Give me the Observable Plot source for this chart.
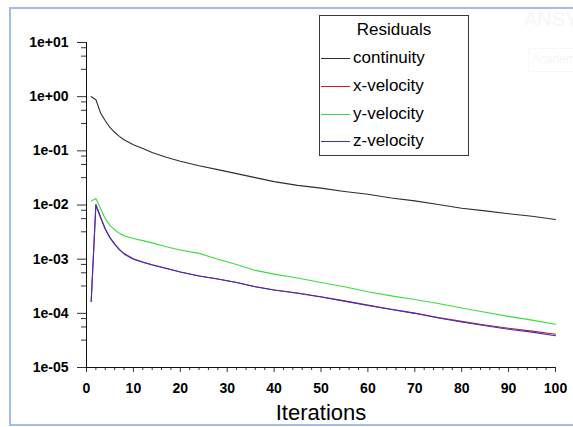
<!DOCTYPE html>
<html>
<head>
<meta charset="utf-8">
<script src="https://cdn.jsdelivr.net/npm/d3@7"></script>
<script src="https://cdn.jsdelivr.net/npm/@observablehq/plot@0.6"></script>
<style>
  html, body { margin: 0; padding: 0; background: #fff; overflow: hidden; }
  #wrap { position: relative; width: 573px; height: 427px; overflow: hidden; font-family: "Liberation Sans", Arial, sans-serif; }
  #frame { position: absolute; left: 9px; top: 7px; width: 640px; height: 415px; border: 2px solid #a3bde6; box-sizing: content-box; pointer-events: none; }
  #chart { position: absolute; left: 0; top: 0; }
  #legend { position: absolute; left: 319px; top: 15px; width: 148px; height: 139px; border: 1px solid #3a3a3a; background: #fff; }
  #legend .title { position: absolute; left: 0; width: 100%; top: 4px; text-align: center; font-size: 17px; color: #000; }
  #legend .row { position: absolute; left: 1px; height: 20px; }
  #legend .row .sw { position: absolute; left: 0; top: 10px; width: 29px; height: 0; border-top: 1px solid; }
  #legend .row .lb { position: absolute; left: 32px; top: 0; font-size: 17px; color: #000; white-space: nowrap; line-height: 20px; }
  .wm { position: absolute; color: #f5f6f9; white-space: nowrap; }
</style>
</head>
<body>
<div id="wrap">
  <div class="wm" style="left:524px;top:8px;font-size:20px;">ANSYS</div>
  <div class="wm" style="left:528px;top:48px;width:60px;height:22px;border:1px solid #f7f8fa;"></div>
  <div class="wm" style="left:532px;top:52px;font-size:12px;">Academic</div>
  <div id="chart"></div>
  <div id="legend"></div>
  <div id="frame"></div>
</div>
<script>
// ---- data ----
const iterations = [1,2,3,4,5,6,7,8,10,12,14,17,20,24,28,32,36,40,45,50,55,60,65,70,75,80,85,90,95,100];
const continuity = [1.0,0.88,0.5,0.36,0.27,0.22,0.185,0.16,0.13,0.11,0.093,0.076,0.064,0.053,0.045,0.038,0.032,0.027,0.023,0.0205,0.0178,0.0158,0.0135,0.0119,0.0102,0.0087,0.0078,0.0069,0.0062,0.0054];
const xVelocity = [0.000165,0.0102,0.0060,0.0036,0.0025,0.0019,0.00152,0.00127,0.00102,0.00089,0.00079,0.00068,0.00058,0.00049,0.00043,0.00037,0.00031,0.00027,0.000238,0.000202,0.000170,0.000142,0.000119,0.000101,0.000084,0.000071,0.000061,0.000053,0.000047,0.000041];
const yVelocity = [0.0118,0.0132,0.0085,0.0056,0.0042,0.0035,0.0030,0.0027,0.0024,0.0022,0.0020,0.0017,0.00148,0.00128,0.00100,0.00080,0.00062,0.00053,0.00045,0.00037,0.00031,0.00025,0.00021,0.00018,0.000152,0.000125,0.000105,0.000088,0.000075,0.000063];
const zVelocity = [0.000165,0.0100,0.0058,0.0036,0.0025,0.0019,0.0015,0.00125,0.00100,0.00088,0.00078,0.00067,0.00058,0.00049,0.00043,0.00037,0.00031,0.00027,0.000235,0.000200,0.000168,0.000140,0.000118,0.000100,0.000082,0.000069,0.000059,0.000051,0.000045,0.0000385];

const seriesNames = ["continuity", "x-velocity", "y-velocity", "z-velocity"];
const seriesColors = ["#2e2e2e", "#c81e28", "#3ddc3d", "#3434c4"];
const legendTitle = "Residuals";
const xLabel = "Iterations";

const xTickValues = [0,10,20,30,40,50,60,70,80,90,100];
const xMinorTickValues = [2,4,6,8,12,14,16,18,22,24,26,28,32,34,36,38,42,44,46,48,52,54,56,58,62,64,66,68,72,74,76,78,82,84,86,88,92,94,96,98];
const yTickValues = [1e-5, 1e-4, 1e-3, 1e-2, 1e-1, 1e0, 1e1];
const yTickLabels = ["1e-05", "1e-04", "1e-03", "1e-02", "1e-01", "1e+00", "1e+01"];
const yMinorMultipliers = [8, 5.6, 3.2];

// ---- build table ----
const seriesValues = [continuity, xVelocity, yVelocity, zVelocity];
const rows = [];
seriesNames.forEach((name, s) => {
  iterations.forEach((it, i) => rows.push({iteration: it, value: seriesValues[s][i], series: name}));
});
const yMinorTickValues = [];
yTickValues.slice(1).forEach(d => yMinorMultipliers.forEach(m => yMinorTickValues.push(d / 10 * m)));
const yLabelOf = new Map(yTickValues.map((v, i) => [v, yTickLabels[i]]));

const chart = Plot.plot({
  width: 573,
  height: 427,
  marginLeft: 86,
  marginRight: 18,
  marginTop: 42,
  marginBottom: 60,
  style: {fontFamily: "'Liberation Sans', Arial, sans-serif", fontSize: "14px", fontWeight: "bold", color: "#000", background: "transparent"},
  x: {domain: [0, 100], label: null},
  y: {type: "log", domain: [1e-5, 10], label: null},
  color: {domain: seriesNames, range: seriesColors},
  marks: [
    Plot.axisY(yMinorTickValues, {tickSize: 5, tickFormat: () => "", stroke: "#333"}),
    Plot.axisY(yTickValues, {tickSize: 9, tickPadding: 9, tickFormat: d => yLabelOf.get(d), stroke: "#333", label: null}),
    Plot.axisX(xMinorTickValues, {tickSize: 3, tickFormat: () => "", stroke: "#333"}),
    Plot.axisX(xTickValues, {tickSize: 5, tickPadding: 10.5, stroke: "#333", label: null}),
    Plot.ruleX([0], {stroke: "#111"}),
    Plot.ruleY([1e-5], {stroke: "#111"}),
    Plot.line(rows, {x: "iteration", y: "value", z: "series", stroke: "series", strokeWidth: 1.1}),
    Plot.text([xLabel], {frameAnchor: "bottom", dy: 52, fontSize: 22, fontWeight: "normal", text: d => d, fill: "#000"})
  ]
});
document.getElementById("chart").appendChild(chart);

// ---- legend ----
const legend = document.getElementById("legend");
const t = document.createElement("div");
t.className = "title";
t.textContent = legendTitle;
legend.appendChild(t);
seriesNames.forEach((name, i) => {
  const row = document.createElement("div");
  row.className = "row";
  row.style.top = (32 + i * 27.8) + "px";
  const sw = document.createElement("div");
  sw.className = "sw";
  sw.style.borderTopColor = seriesColors[i];
  const lb = document.createElement("div");
  lb.className = "lb";
  lb.textContent = name;
  row.appendChild(sw);
  row.appendChild(lb);
  legend.appendChild(row);
});
</script>
</body>
</html>
